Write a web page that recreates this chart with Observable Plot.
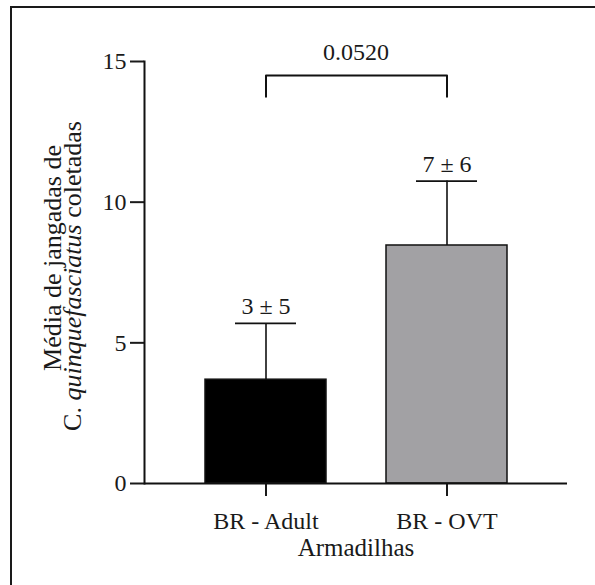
<!DOCTYPE html>
<html><head><meta charset="utf-8">
<script src="https://cdn.jsdelivr.net/npm/d3@7"></script>
<script src="https://cdn.jsdelivr.net/npm/@observablehq/plot@0.6"></script>
<style>
html,body{margin:0;padding:0;background:#fff;overflow:hidden;width:595px;height:585px}
#wrap{position:relative;width:595px;height:585px;overflow:hidden}
#wrap svg{position:absolute;left:0;top:0}
#border{position:absolute;left:10px;top:6px;width:700px;height:700px;border-left:2px solid #1a1a1a;border-top:2px solid #1a1a1a;box-sizing:border-box;pointer-events:none}
</style></head><body><div id="wrap"><div id="border"></div></div>
<script>
const categories = ["BR - Adult", "BR - OVT"];
const means = [3.69, 8.46];
const errors = [2.0, 2.29];
const valueLabels = ["3 ± 5", "7 ± 6"];
const yTicks = [0, 5, 10, 15];
const pValueLabel = "0.0520";
const xTitle = "Armadilhas";
const yTitleLine1 = "Média de jangadas de";
const yTitleLine2 = ["C. ", "quinquefasciatus", " coletadas"];

const data = categories.map((c, i) => ({cat: c, mean: means[i], top: means[i] + errors[i], label: valueLabels[i]}));
const bracketTop = 14.5, bracketLeg = 13.75;
const bracket = [
  {cat: categories[0], v: bracketLeg},
  {cat: categories[0], v: bracketTop},
  {cat: categories[1], v: bracketTop},
  {cat: categories[1], v: bracketLeg}
];
const font = "Liberation Serif, Times New Roman, serif";

const chart = Plot.plot({
  width: 595, height: 585,
  marginLeft: 144, marginRight: 28, marginTop: 61, marginBottom: 102,
  style: {fontFamily: font, fontSize: "24px", color: "#1a1a1a", background: "transparent"},
  x: {domain: categories, paddingInner: 1/3, paddingOuter: 1/3, label: null},
  y: {domain: [0, 15], label: null},
  color: {domain: categories, range: ["#000000", "#a2a1a4"]},
  marks: [
    Plot.barY(data, {x: "cat", y: "mean", fill: "cat", stroke: "#111", strokeWidth: 1.5}),
    Plot.ruleX(data, {x: "cat", y1: "mean", y2: "top", stroke: "#111", strokeWidth: 1.6}),
    Plot.tickY(data, {x: "cat", y: "top", stroke: "#111", strokeWidth: 1.8, insetLeft: 30, insetRight: 30}),
    Plot.text(data, {x: "cat", y: "top", text: "label", dy: -9, lineAnchor: "bottom", fontSize: 24, fill: "#1a1a1a"}),
    Plot.line(bracket, {x: "cat", y: "v", stroke: "#111", strokeWidth: 2}),
    Plot.text([pValueLabel], {text: d => d, y: 15, frameAnchor: "middle", lineAnchor: "bottom", dy: -2, fontSize: 24, fill: "#1a1a1a"}),
    Plot.axisY({ticks: yTicks, tickSize: 14, tickPadding: 4, fontSize: 24, strokeWidth: 2, label: null}),
    Plot.axisX({tickSize: 13, tickPadding: 15, fontSize: 24, strokeWidth: 2, label: null}),
    Plot.frame({anchor: "left", stroke: "#111", strokeWidth: 2}),
    Plot.ruleY([0], {stroke: "#111", strokeWidth: 2}),
    Plot.text([xTitle], {text: d => d, frameAnchor: "bottom", dy: 72, fontSize: 25, fill: "#1a1a1a"})
  ]
});
document.getElementById("wrap").prepend(chart);

// y-axis title with italic species name
const svg = d3.select(chart);
const g = svg.append("g").attr("font-family", font).attr("font-size", 26).attr("fill", "#1a1a1a").attr("text-anchor", "middle");
g.append("text").attr("transform", "translate(61,258) rotate(-90)").text(yTitleLine1);
const t2 = g.append("text").attr("transform", "translate(81,276) rotate(-90)");
yTitleLine2.forEach((s, i) => t2.append("tspan").attr("font-style", i === 1 ? "italic" : null).text(s));
</script></body></html>
